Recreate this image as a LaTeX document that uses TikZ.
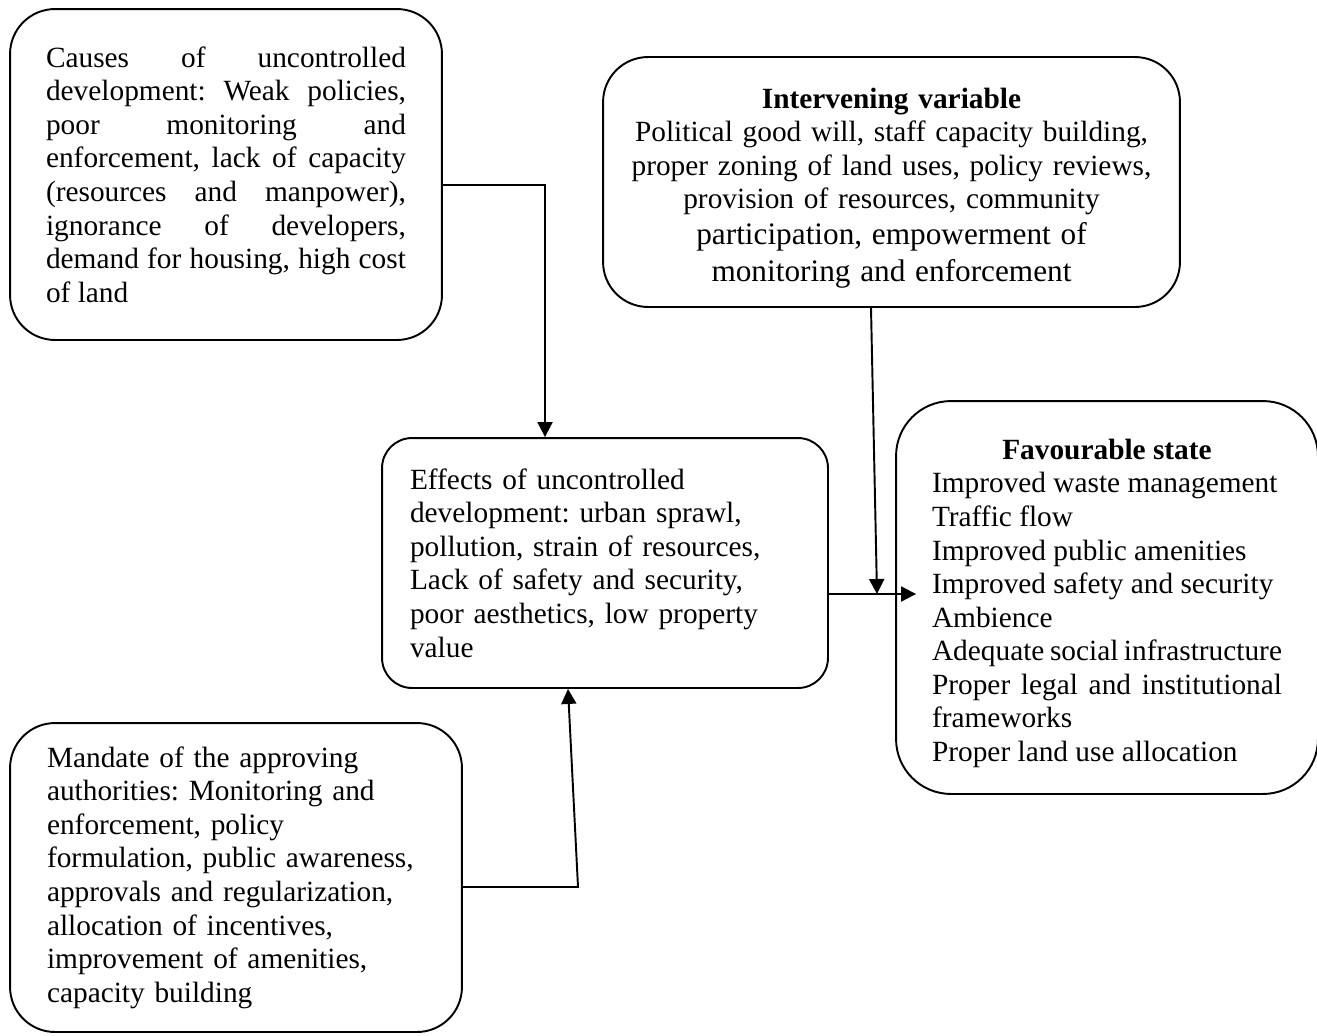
\documentclass[tikz,border=0pt]{standalone}
\usepackage{fontspec}
\setmainfont{Liberation Serif}
\frenchspacing
\usetikzlibrary{arrows.meta}

\begin{document}
\begin{tikzpicture}[x=0.02cm, y=-0.02cm, line width=1.1pt,
    >={Triangle[length=0.3cm,width=0.3cm]},
    box/.style={draw, rounded corners=0.9cm, inner sep=0pt,
        font=\fontsize{16.7}{19.1}\selectfont}]
\useasboundingbox (0,0) rectangle (1317,1035);

\node[box, minimum width=8.64cm, minimum height=6.62cm, text width=7.2cm, align=justify]
    (causes) at (226,174.5) {Causes of uncontrolled\linebreak
    development: Weak policies,\linebreak
    poor monitoring and\linebreak
    enforcement, lack of capacity\linebreak
    (resources and manpower),\linebreak
    ignorance of developers,\linebreak
    demand for housing, high cost\linebreak
    of land};

\node[box, minimum width=11.54cm, minimum height=5cm, text width=11cm, align=center]
    (intervening) at (891.5,182) {\rule{0pt}{0.64cm}\textbf{Intervening variable}\\
    Political good will, staff capacity building,\\
    proper zoning of land uses, policy reviews,\\
    provision of resources, community\\[1pt]
    {\fontsize{17.8}{19.1}\selectfont participation, empowerment of}\\[2pt]
    {\fontsize{17.8}{19.1}\selectfont monitoring and enforcement}};

\node[box, rounded corners=1.1cm, minimum width=8.44cm, minimum height=7.86cm, text width=7.0cm, align=justify]
    (fav) at (1107,597.5) {{\centering\rule{0pt}{0.64cm}\textbf{Favourable state}\par}
    Improved waste management\\
    Traffic flow\\
    Improved public amenities\\
    Improved safety and security\\
    Ambience\\
    Adequate social infrastructure\\
    Proper legal and institutional\linebreak
    frameworks\\
    Proper land use allocation};

\node[box, rounded corners=0.6cm, minimum width=8.92cm, minimum height=5cm, text width=7.8cm, align=left]
    (effects) at (605,563) {Effects of uncontrolled\\
    development: urban sprawl,\\
    pollution, strain of resources,\\
    Lack of safety and security,\\
    poor aesthetics, low property\\
    value};

\node[box, minimum width=9.04cm, minimum height=6.18cm, text width=7.56cm, align=left]
    (mandate) at (236,877.5) {Mandate of the approving\\
    authorities: Monitoring and\\
    enforcement, policy\\
    formulation, public awareness,\\
    approvals and regularization,\\
    allocation of incentives,\\
    improvement of amenities,\\
    capacity building};

% bends of the connectors
\coordinate (cbend) at (545,185);
\coordinate (mbend) at (578,887);
\coordinate (meet) at (877,594);

\draw[->] (causes.east |- cbend) -| (effects.north -| cbend);
\draw[->] (mandate.east |- mbend) -- (mbend) -- (effects.south -| 568,0);
\draw[->] (intervening.south -| 871,0) -- (meet);
\draw[->] (effects.east |- meet) -- ([xshift=0.42cm]fav.west |- meet);
\end{tikzpicture}
\end{document}
